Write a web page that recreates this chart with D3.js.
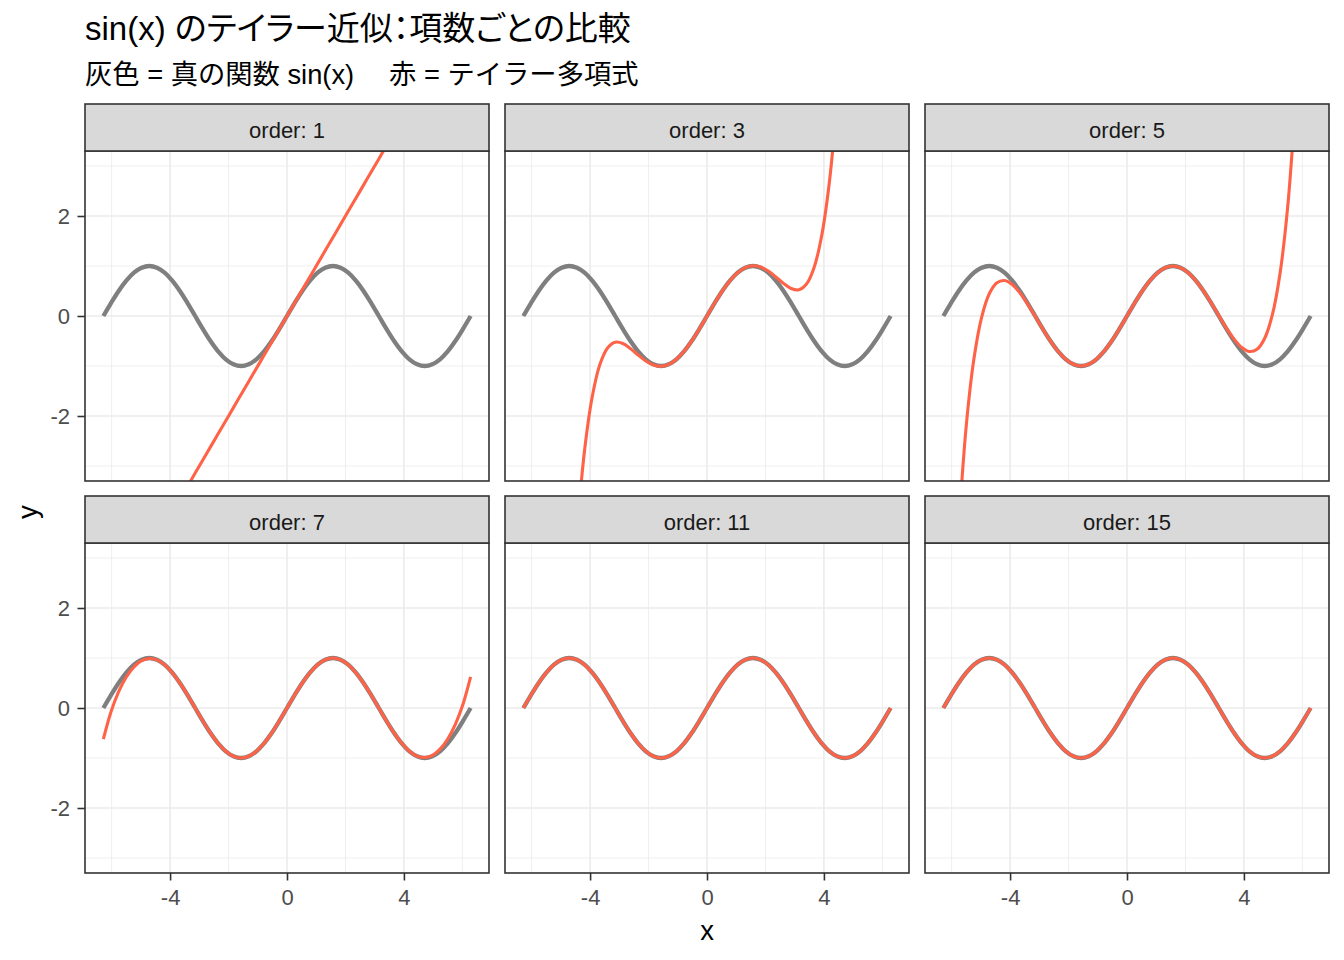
<!DOCTYPE html>
<html>
<head>
<meta charset="utf-8">
<script src="https://cdn.jsdelivr.net/npm/d3@7"></script>
<style>
  body { margin: 0; background: #fff; }
  svg { display: block; }
  text { font-family: "Liberation Sans", "Noto Sans CJK JP", sans-serif; }
</style>
</head>
<body>
<svg id="chart" width="1344" height="960"></svg>
<script>
// ---------------- data ----------------
const xs = [-6.2832,-6.0214,-5.7596,-5.4978,-5.2360,-4.9742,-4.7124,-4.4506,-4.1888,-3.9270,-3.6652,-3.4034,
            -3.1416,-2.8798,-2.6180,-2.3562,-2.0944,-1.8326,-1.5708,-1.3090,-1.0472,-0.7854,-0.5236,-0.2618,
            0,
            0.2618,0.5236,0.7854,1.0472,1.3090,1.5708,1.8326,2.0944,2.3562,2.6180,2.8798,3.1416,
            3.4034,3.6652,3.9270,4.1888,4.4506,4.7124,4.9742,5.2360,5.4978,5.7596,6.0214,6.2832];

const sinY = [0,0.2588,0.5,0.7071,0.866,0.9659,1,0.9659,0.866,0.7071,0.5,0.2588,
              0,-0.2588,-0.5,-0.7071,-0.866,-0.9659,-1,-0.9659,-0.866,-0.7071,-0.5,-0.2588,
              0,
              0.2588,0.5,0.7071,0.866,0.9659,1,0.9659,0.866,0.7071,0.5,0.2588,0,
              -0.2588,-0.5,-0.7071,-0.866,-0.9659,-1,-0.9659,-0.866,-0.7071,-0.5,-0.2588,0];

const order1 = [null,null,null,null,null,null,null,null,null,null,null,-3.4034,
                -3.1416,-2.8798,-2.6180,-2.3562,-2.0944,-1.8326,-1.5708,-1.3090,-1.0472,-0.7854,-0.5236,-0.2618,
                0,
                0.2618,0.5236,0.7854,1.0472,1.3090,1.5708,1.8326,2.0944,2.3562,2.6180,2.8798,3.1416,
                3.4034,null,null,null,null,null,null,null,null,null,null,null];

const order3 = [null,null,null,null,null,null,null,-4.3094,-2.6858,-1.6163,-0.9710,-0.6383,
                -0.5240,-0.5499,-0.6523,-0.7812,-0.8990,-0.9791,-1.0045,-0.9672,-0.8663,-0.7071,-0.5,-0.2588,
                0,
                0.2588,0.5,0.7071,0.8663,0.9672,1.0045,0.9791,0.8990,0.7812,0.6523,0.5499,0.5240,
                0.6383,0.9710,1.6163,2.6858,4.3094,null,null,null,null,null,null,null];

const order5 = [null,null,-4.2368,-2.1813,-0.8508,-0.0261,0.4444,0.6653,0.7096,0.6292,0.4631,0.2423,
                -0.0069,-0.2615,-0.5010,-0.7074,-0.866,-0.9659,-1,-0.9659,-0.866,-0.7071,-0.5,-0.2588,
                0,
                0.2588,0.5,0.7071,0.866,0.9659,1,0.9659,0.866,0.7074,0.5010,0.2615,0.0069,
                -0.2423,-0.4631,-0.6292,-0.7096,-0.6653,-0.4444,0.0261,0.8508,2.1813,4.2368,null,null];

const order7 = [-0.6248,-0.0748,0.3269,0.6201,0.8238,0.9462,0.9911,0.9621,0.8645,0.7065,0.5,0.2588,
                0,-0.2588,-0.5,-0.7071,-0.866,-0.9659,-1,-0.9659,-0.866,-0.7071,-0.5,-0.2588,
                0,
                0.2588,0.5,0.7071,0.866,0.9659,1,0.9659,0.866,0.7071,0.5,0.2588,0,
                -0.2588,-0.5,-0.7065,-0.8645,-0.9621,-0.9911,-0.9462,-0.8238,-0.6201,-0.3269,0.0748,0.6248];

const order11 = [0,0.2588,0.5,0.7071,0.866,0.9659,1,0.9659,0.866,0.7071,0.5,0.2588,
                 0,-0.2588,-0.5,-0.7071,-0.866,-0.9659,-1,-0.9659,-0.866,-0.7071,-0.5,-0.2588,
                 0,
                 0.2588,0.5,0.7071,0.866,0.9659,1,0.9659,0.866,0.7071,0.5,0.2588,0,
                 -0.2588,-0.5,-0.7071,-0.866,-0.9659,-1,-0.9659,-0.866,-0.7071,-0.5,-0.2588,0];

const order15 = [0,0.2588,0.5,0.7071,0.866,0.9659,1,0.9659,0.866,0.7071,0.5,0.2588,
                 0,-0.2588,-0.5,-0.7071,-0.866,-0.9659,-1,-0.9659,-0.866,-0.7071,-0.5,-0.2588,
                 0,
                 0.2588,0.5,0.7071,0.866,0.9659,1,0.9659,0.866,0.7071,0.5,0.2588,0,
                 -0.2588,-0.5,-0.7071,-0.866,-0.9659,-1,-0.9659,-0.866,-0.7071,-0.5,-0.2588,0];

const orders = [1, 3, 5, 7, 11, 15];
const taylorSeries = [order1, order3, order5, order7, order11, order15];
const xTicks = [-4, 0, 4];
const yTicks = [-2, 0, 2];
const xMinor = [-6, -2, 2, 6];
const yMinor = [-3, -1, 1, 3];
const titleText = "sin(x) のテイラー近似：項数ごとの比較";
const subtitleText = "灰色 = 真の関数 sin(x)\u3000 赤 = テイラー多項式";

// ---------------- layout ----------------
const svg = d3.select("#chart");
const colX = [85, 505, 925];
const stripTop = [104, 496];
const panelW = 404, stripH = 47, panelH = 330;
const GRID = "#EBEBEB", BORDER = "#333333";

const xMax = 2 * Math.PI * 1.1;
const x = d3.scaleLinear().domain([-xMax, xMax]).range([0, panelW]);
const y = d3.scaleLinear().domain([-3.3, 3.3]).range([panelH, 0]);

const line = d3.line()
  .defined(d => d[1] !== null)
  .x(d => x(d[0]))
  .y(d => y(d[1]))
  .curve(d3.curveCatmullRom.alpha(0.5));

const sinPts = xs.map((v, i) => [v, sinY[i]]);

orders.forEach((ord, idx) => {
  const col = idx % 3, row = Math.floor(idx / 3);
  const px = colX[col], sy = stripTop[row], py = sy + stripH;
  const g = svg.append("g").attr("transform", `translate(${px},${py})`);

  g.append("rect").attr("width", panelW).attr("height", panelH).attr("fill", "#fff");

  // minor grid
  g.selectAll(".vminor").data(xMinor).join("line")
    .attr("x1", d => x(d)).attr("x2", d => x(d)).attr("y1", 0).attr("y2", panelH)
    .attr("stroke", GRID).attr("stroke-width", 0.8);
  g.selectAll(".hminor").data(yMinor).join("line")
    .attr("x1", 0).attr("x2", panelW).attr("y1", d => y(d)).attr("y2", d => y(d))
    .attr("stroke", GRID).attr("stroke-width", 0.8);
  // major grid
  g.selectAll(".vmajor").data(xTicks).join("line")
    .attr("x1", d => x(d)).attr("x2", d => x(d)).attr("y1", 0).attr("y2", panelH)
    .attr("stroke", GRID).attr("stroke-width", 1.6);
  g.selectAll(".hmajor").data(yTicks).join("line")
    .attr("x1", 0).attr("x2", panelW).attr("y1", d => y(d)).attr("y2", d => y(d))
    .attr("stroke", GRID).attr("stroke-width", 1.6);

  // clip
  const clipId = "clip" + idx;
  svg.append("clipPath").attr("id", clipId)
    .append("rect").attr("x", 0).attr("y", 0).attr("width", panelW).attr("height", panelH);
  const lines = g.append("g").attr("clip-path", `url(#${clipId})`);

  lines.append("path").attr("d", line(sinPts))
    .attr("fill", "none").attr("stroke", "#7F7F7F").attr("stroke-width", 4.3);
  const ts = taylorSeries[idx];
  lines.append("path").attr("d", line(xs.map((v, i) => [v, ts[i]])))
    .attr("fill", "none").attr("stroke", "#FF6347").attr("stroke-width", 3.1);

  // border
  g.append("rect").attr("width", panelW).attr("height", panelH)
    .attr("fill", "none").attr("stroke", BORDER).attr("stroke-width", 1.6);

  // strip
  const s = svg.append("g").attr("transform", `translate(${px},${sy})`);
  s.append("rect").attr("width", panelW).attr("height", stripH)
    .attr("fill", "#D9D9D9").attr("stroke", BORDER).attr("stroke-width", 1.6);
  s.append("text").attr("x", panelW / 2).attr("y", 34)
    .attr("text-anchor", "middle").attr("font-size", 22).attr("fill", "#1A1A1A")
    .text("order: " + ord);

  // axes
  if (col === 0) {
    const ay = g.append("g").call(d3.axisLeft(y).tickValues(yTicks).tickSize(7.5).tickPadding(7.5)
      .tickFormat(d => String(d)));
    ay.select(".domain").remove();
    ay.selectAll(".tick line").attr("stroke", BORDER).attr("stroke-width", 1.6);
    ay.selectAll(".tick text").attr("font-size", 22).attr("fill", "#4D4D4D")
      .attr("font-family", "Liberation Sans, sans-serif");
  }
  if (row === 1) {
    const ax = g.append("g").attr("transform", `translate(0,${panelH})`)
      .call(d3.axisBottom(x).tickValues(xTicks).tickSize(7.5).tickPadding(9)
      .tickFormat(d => String(d)));
    ax.select(".domain").remove();
    ax.selectAll(".tick line").attr("stroke", BORDER).attr("stroke-width", 1.6);
    ax.selectAll(".tick text").attr("font-size", 22).attr("fill", "#4D4D4D")
      .attr("font-family", "Liberation Sans, sans-serif");
  }
});

// titles
svg.append("text").attr("x", 85).attr("y", 40).attr("font-size", 33)
  .style("font-feature-settings", "'palt'").attr("fill", "#000").text(titleText);
svg.append("text").attr("x", 85).attr("y", 84).attr("font-size", 27.3)
  .style("white-space", "pre").attr("fill", "#000").text(subtitleText);

svg.append("text").attr("x", 707).attr("y", 940).attr("text-anchor", "middle")
  .attr("font-size", 27.5).attr("fill", "#000").text("x");
svg.append("text").attr("transform", "translate(37,512) rotate(-90)").attr("text-anchor", "middle")
  .attr("font-size", 27.5).attr("fill", "#000").text("y");
</script>
</body>
</html>
